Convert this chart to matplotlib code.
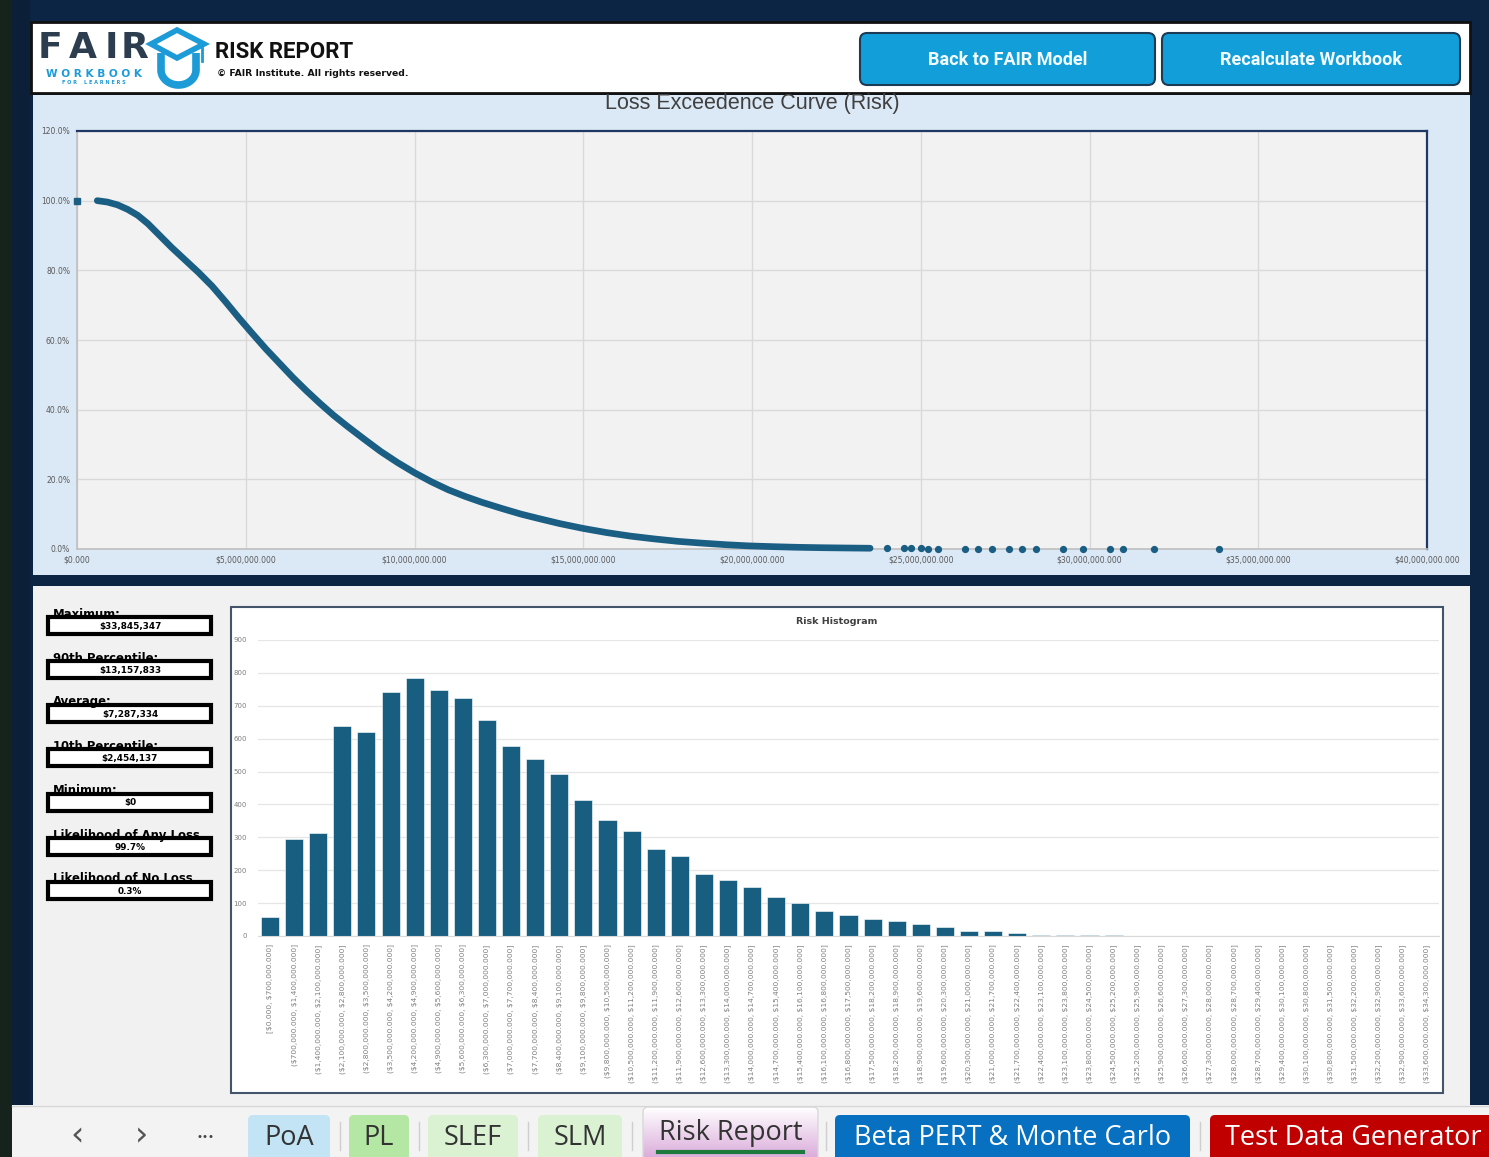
import numpy as np
import matplotlib
matplotlib.use("Agg")
import matplotlib.pyplot as plt
from matplotlib.patches import Rectangle, FancyBboxPatch, Polygon
from matplotlib.ticker import FuncFormatter

plt.rcParams["text.parse_math"] = False

W, H = 1489, 1157

# ---- Loss exceedance curve: loss in $ millions, exceedance in percent ----
zero_loss_m = [0.0]
zero_loss_exceed = [100.0]
lec_loss_m = [0.6, 0.9, 1.2, 1.5, 1.8, 2.1, 2.45, 2.8, 3.2, 3.6, 4.0, 4.4, 4.8,
              5.2, 5.6, 6.0, 6.4, 6.8, 7.2, 7.6, 8.0, 8.5, 9.0, 9.5, 10.0, 10.5,
              11.0, 11.5, 12.0, 12.6, 13.16, 13.7, 14.3, 15.0, 15.7, 16.4, 17.1,
              17.8, 18.5, 19.2, 19.9, 20.6, 21.3, 22.0, 22.7, 23.5]
lec_exceed_pct = [100.0, 99.6, 98.8, 97.5, 95.8, 93.4, 90.0, 86.6, 83.0, 79.4,
                  75.5, 71.0, 66.3, 61.8, 57.4, 53.3, 49.2, 45.4, 41.8, 38.4,
                  35.3, 31.6, 28.0, 24.8, 21.9, 19.3, 17.0, 15.1, 13.4, 11.6,
                  10.0, 8.7, 7.3, 5.9, 4.7, 3.7, 2.9, 2.2, 1.7, 1.25, 0.9, 0.68,
                  0.5, 0.38, 0.3, 0.22]
tail_loss_m = [24.0, 24.5, 24.7, 25.0, 25.2, 25.5, 26.3, 26.7, 27.1, 27.6, 28.0,
               28.4, 29.2, 29.8, 30.6, 31.0, 31.9, 33.85]
tail_exceed_pct = [0.18, 0.17, 0.16, 0.15, 0.14, 0.13, 0.12, 0.11, 0.10, 0.09, 0.08,
                   0.07, 0.06, 0.05, 0.04, 0.03, 0.02, 0.01]
lec_xticks_m = [0, 5, 10, 15, 20, 25, 30, 35, 40]
lec_yticks = [0, 20, 40, 60, 80, 100, 120]

# ---- Risk histogram ----
hist_bin_width = 700_000
hist_counts = [57, 295, 313, 637, 619, 742, 785, 748, 723, 656, 577, 539, 492, 415,
               354, 318, 264, 244, 189, 171, 150, 119, 99, 76, 64, 52, 46, 36, 27,
               15, 15, 10, 2, 2, 2, 2, 1, 1, 1, 1, 1, 0, 0, 0, 0, 0, 0, 0, 0]
hist_yticks = [0, 100, 200, 300, 400, 500, 600, 700, 800, 900]

# ---- Summary statistics ----
stat_labels = ["Maximum:", "90th Percentile:", "Average:", "10th Percentile:",
               "Minimum:", "Likelihood of Any Loss", "Likelihood of No Loss"]
stat_values = ["$33,845,347", "$13,157,833", "$7,287,334", "$2,454,137",
               "$0", "99.7%", "0.3%"]

# ---- Sheet tabs ----
tab_names = ["PoA", "PL", "SLEF", "SLM", "Risk Report",
             "Beta PERT & Monte Carlo", "Test Data Generator"]

NAVY = "#0d2544"
SERIES = "#1b5e84"
BAR = "#175e80"


def axrect(x0, y0, x1, y1):
    return [x0 / W, 1 - y1 / H, (x1 - x0) / W, (y1 - y0) / H]


fig = plt.figure(figsize=(W / 100, H / 100), dpi=100)
fig.patch.set_facecolor(NAVY)

bg = fig.add_axes([0, 0, 1, 1], zorder=0)
bg.set_xlim(0, W)
bg.set_ylim(H, 0)
bg.axis("off")


def rect(x0, y0, x1, y1, **kw):
    bg.add_patch(Rectangle((x0, y0), x1 - x0, y1 - y0, **kw))


# frame pieces
rect(0, 0, 12, H, facecolor="#15231c", edgecolor="none")
rect(12, 0, 30, H, facecolor="#0b2038", edgecolor="none")

# header band
rect(31, 22, 1470, 93, facecolor="white", edgecolor="#111111", linewidth=2)

# logo: FAIR letters
for ch, xc in zip("FAIR", [50, 83, 111, 135]):
    bg.text(xc, 58, ch, ha="center", va="baseline", fontsize=26, fontweight="bold",
            color="#2c3d50", family="DejaVu Sans")
bg.text(94, 77, "W O R K B O O K", ha="center", va="baseline", fontsize=7.6,
        fontweight="bold", color="#1c9bd7", family="DejaVu Sans")
bg.text(94, 84, "F O R    L E A R N E R S", ha="center", va="baseline", fontsize=3.6,
        fontweight="bold", color="#1c9bd7", family="DejaVu Sans")
CAP = "#1c9bd7"
bg.add_patch(Polygon([[151, 44], [177, 30], [204, 44], [177, 58]], closed=True,
                     facecolor="white", edgecolor=CAP, linewidth=4))
t = np.linspace(np.pi, 2 * np.pi, 40)
ux = np.concatenate([[161], 178.5 + 17.5 * np.cos(t), [196]])
uy = np.concatenate([[53], 70 - 15 * np.sin(t), [53]])
bg.plot(ux, uy, color=CAP, linewidth=5.5, solid_capstyle="butt")
bg.plot([202, 202], [45, 61], color=CAP, linewidth=2)

bg.text(215, 58, "RISK REPORT", ha="left", va="baseline", fontsize=16,
        fontweight="bold", color="#111111", family="Roboto")
bg.text(217, 76, "\u00a9 FAIR Institute. All rights reserved.", ha="left",
        va="baseline", fontsize=6.7, fontweight="bold", color="#111111",
        family="DejaVu Sans")

# buttons
for (x0, x1, label) in [(860, 1155, "Back to FAIR Model"),
                        (1162, 1460, "Recalculate Workbook")]:
    bg.add_patch(FancyBboxPatch((x0, 33), x1 - x0, 52,
                                boxstyle="round,pad=0,rounding_size=7",
                                facecolor="#129fd9", edgecolor="#1d3b55",
                                linewidth=1.5))
    bg.text((x0 + x1) / 2, 60, label, ha="center", va="center", fontsize=13,
            fontweight="bold", color="#f4fbff", family="Roboto")

# upper chart panel
rect(33, 95, 1470, 575, facecolor="#dbe8f5", edgecolor="none")
bg.text(752, 104, "Loss Exceedence Curve (Risk)", ha="center", va="center",
        fontsize=15.5, color="#404040", family="Liberation Sans")

# lower panel
rect(33, 586, 1470, 1105, facecolor="#f1f1f1", edgecolor="none")
rect(231, 607, 1443, 1093, facecolor="white", edgecolor="#44546a", linewidth=1.5)
bg.text(837, 622, "Risk Histogram", ha="center", va="center", fontsize=6.8,
        fontweight="bold", color="#404040", family="DejaVu Sans")

# statistic boxes
box_tops = [617, 661, 705, 749, 794, 838, 882]
for top, lab, val in zip(box_tops, stat_labels, stat_values):
    rect(48, top, 211, top + 17, facecolor="white", edgecolor="black", linewidth=3)
    bg.text(53, top + 0.5, lab, ha="left", va="baseline", fontsize=8.4,
            fontweight="bold", color="black", family="DejaVu Sans")
    bg.text(130, top + 9, val, ha="center", va="center", fontsize=6.4,
            fontweight="bold", color="black", family="DejaVu Sans")

# sheet tab bar
rect(12, 1105, W, H, facecolor="#f3f3f3", edgecolor="none")
bg.plot([12, W], [1105.5, 1105.5], color="#d6d6d6", linewidth=1)
for sym, xc in [("\u2039", 77), ("\u203a", 142)]:
    bg.text(xc, 1136, sym, ha="center", va="center", fontsize=24, color="#555555",
            family="DejaVu Sans")
bg.text(205, 1137, "\u2022\u2022\u2022", ha="center", va="center", fontsize=7.5,
        color="#444444", family="DejaVu Sans")

TAB_FS = 19.5
tab_specs = [
    (248, 330, "#c2e4f4", "#333333"),
    (349, 409, "#b4e6a4", "#333333"),
    (428, 518, "#daf2d2", "#333333"),
    (538, 622, "#daf2d2", "#333333"),
    (643, 818, None, "#333333"),
    (835, 1190, "#0870c0", "white"),
    (1210, W + 10, "#c00000", "white"),
]
for (x0, x1, fc, tc), name in zip(tab_specs, tab_names):
    if fc is None:
        grad = np.linspace(0, 1, 60).reshape(-1, 1)
        top_c = np.array([1.0, 1.0, 1.0])
        bot_c = np.array([0.86, 0.68, 0.86])
        img = top_c + (bot_c - top_c) * grad[..., None]
        bg.imshow(img.reshape(60, 1, 3), extent=(x0, x1, H, 1107), aspect="auto",
                  zorder=1)
        bg.add_patch(FancyBboxPatch((x0, 1107), x1 - x0, 60,
                                    boxstyle="round,pad=0,rounding_size=5",
                                    facecolor="none", edgecolor="#d8d8d8",
                                    linewidth=1, zorder=2))
        bg.text((x0 + x1) / 2, 1133, name, ha="center", va="center",
                fontsize=TAB_FS, color=tc, family="Open Sans", zorder=3)
        bg.plot([658, 803], [1152, 1152], color="#1e7a3c", linewidth=3, zorder=3)
    else:
        bg.add_patch(FancyBboxPatch((x0, 1115), x1 - x0, 60,
                                    boxstyle="round,pad=0,rounding_size=5",
                                    facecolor=fc, edgecolor="none"))
        bg.text((x0 + x1) / 2 if x1 < W else 1353, 1138, name, ha="center",
                va="center", fontsize=TAB_FS, color=tc, family="Open Sans")
for xs in [340, 419, 528, 632, 826, 1200]:
    bg.plot([xs, xs], [1122, 1150], color="#cfcfcf", linewidth=1)

# ---- Loss exceedance chart ----
ax1 = fig.add_axes(axrect(77, 131, 1427, 549), zorder=1)
ax1.set_facecolor("#f2f2f2")
ax1.set_xlim(0, 40)
ax1.set_ylim(0, 120)
ax1.set_xticks(lec_xticks_m)
ax1.set_yticks(lec_yticks)
ax1.xaxis.set_major_formatter(FuncFormatter(lambda v, p: f"${v * 1e6:,.3f}"))
ax1.yaxis.set_major_formatter(FuncFormatter(lambda v, p: f"{v:.1f}%"))
ax1.grid(True, color="#d9d9d9", linewidth=1)
ax1.set_axisbelow(True)
ax1.tick_params(length=0, labelsize=5.5, labelcolor="#595959", pad=5)
for side in ["top", "right"]:
    ax1.spines[side].set_color("#1f3864")
    ax1.spines[side].set_linewidth(1.6)
for side in ["left", "bottom"]:
    ax1.spines[side].set_color("#bfbfbf")
    ax1.spines[side].set_linewidth(1.2)
ax1.plot(lec_loss_m, lec_exceed_pct, color=SERIES, linewidth=4.8,
         solid_capstyle="round", solid_joinstyle="round", clip_on=False, zorder=4)
ax1.plot(zero_loss_m, zero_loss_exceed, "s", color=SERIES, markersize=4.5,
         clip_on=False, zorder=6)
ax1.plot(tail_loss_m, tail_exceed_pct, "o", color=SERIES, markersize=4.2,
         clip_on=False, linestyle="none", zorder=6)

# ---- Histogram ----
n_bins = len(hist_counts)
edges = [i * hist_bin_width for i in range(n_bins + 1)]
bin_labels = []
for i in range(n_bins):
    open_br = "[" if i == 0 else "("
    bin_labels.append(f"{open_br}${edges[i]:,.3f}, ${edges[i + 1]:,.3f}]")

ax2 = fig.add_axes(axrect(258, 640, 1439, 936), zorder=1)
ax2.set_facecolor("white")
xpos = np.arange(n_bins)
ax2.bar(xpos, hist_counts, width=0.75, color=BAR, edgecolor="white", linewidth=0.4)
ax2.set_xlim(-0.5, n_bins - 0.5)
ax2.set_ylim(0, 900)
ax2.set_yticks(hist_yticks)
ax2.set_xticks(xpos)
ax2.set_xticklabels(bin_labels, rotation=90, fontsize=5.4, color="#7f7f7f")
ax2.tick_params(axis="y", length=0, labelsize=5, labelcolor="#7f7f7f", pad=8)
ax2.tick_params(axis="x", length=0, pad=6)
ax2.grid(True, axis="y", color="#e6e6e6", linewidth=0.9)
ax2.set_axisbelow(True)
for side in ["top", "right", "left"]:
    ax2.spines[side].set_visible(False)
ax2.spines["bottom"].set_color("#d9d9d9")

fig.savefig("out.png", dpi=100, facecolor=fig.get_facecolor())
